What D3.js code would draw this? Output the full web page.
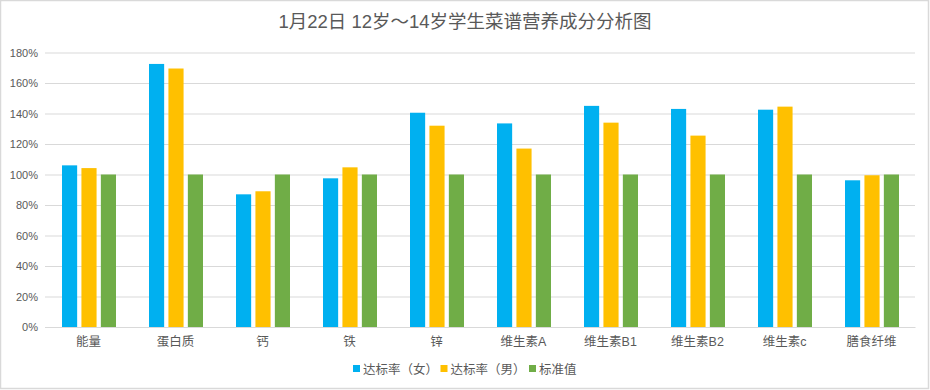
<!DOCTYPE html>
<html>
<head>
<meta charset="utf-8">
<script src="https://cdn.jsdelivr.net/npm/d3@7/dist/d3.min.js"></script>
<style>
html,body{margin:0;padding:0;background:#fff;}
text{font-family:"Liberation Sans","Noto Sans CJK SC",sans-serif;}
</style>
</head>
<body>
<svg id="chart" width="930" height="390"></svg>
<script>
const categories = ["能量","蛋白质","钙","铁","锌","维生素A","维生素B1","维生素B2","维生素c","膳食纤维"];
const seriesNames = ["达标率（女）","达标率（男）","标准值"];
const female = [1.06,1.725,0.87,0.975,1.405,1.335,1.45,1.43,1.425,0.962];
const male   = [1.042,1.695,0.89,1.047,1.32,1.17,1.34,1.255,1.445,0.995];
const standard = [1,1,1,1,1,1,1,1,1,1];
const colors = ["#00B0F0","#FFC000","#70AD47"];
const yTicks = [0,0.2,0.4,0.6,0.8,1.0,1.2,1.4,1.6,1.8];
const title = "1月22日 12岁～14岁学生菜谱营养成分分析图";

(function(){
const series = [female, male, standard];
const svg = d3.select("#chart");
const W = 930, H = 390;

// outer frame
svg.append("rect").attr("x",0.5).attr("y",0.5).attr("width",W-2).attr("height",H-2)
  .attr("fill","#fff").attr("stroke","#d9d9d9").attr("stroke-width",1.5);

const pLeft = 45, pRight = 915, pTop = 52.5, pBottom = 327;
const groupW = 54;
const x = d3.scaleBand().domain(categories).range([pLeft,pRight]).paddingInner(0).paddingOuter(0);
const y = d3.scaleLinear().domain([0,1.8]).range([pBottom,pTop]);
const inner = d3.scaleBand().domain(d3.range(3)).range([0,groupW]).paddingInner(0.22).paddingOuter(0);
const groupOffset = (x.bandwidth()-groupW)/2 + 0.5;

// grid
const yAxis = d3.axisLeft(y).tickValues(yTicks).tickFormat(d3.format(".0%")).tickSize(-(pRight-pLeft)).tickPadding(8);
const gy = svg.append("g").attr("transform",`translate(${pLeft},0)`).call(yAxis);
gy.select(".domain").remove();
gy.selectAll(".tick line").attr("stroke","#d9d9d9").attr("stroke-width",1);
gy.selectAll(".tick text").attr("fill","#595959").attr("font-size","11px").attr("x",-7);

// bars
series.forEach((vals,si)=>{
  svg.append("g").selectAll("rect").data(vals).join("rect")
    .attr("x",(d,i)=>x(categories[i]) + groupOffset + inner(si))
    .attr("y",d=>y(d))
    .attr("width",inner.bandwidth())
    .attr("height",d=>y(0)-y(d))
    .attr("fill",colors[si]);
});

// x axis
const xAxis = d3.axisBottom(x).tickSize(0).tickPadding(10);
const gx = svg.append("g").attr("transform",`translate(0,${pBottom})`).call(xAxis);
gx.select(".domain").attr("stroke","#d9d9d9").attr("stroke-width",1.2);
gx.selectAll(".tick text").attr("fill","#595959").attr("font-size","12.5px").attr("dy","0.71em");

// title
svg.append("text").attr("x",465).attr("y",28).attr("text-anchor","middle")
  .attr("fill","#595959").attr("font-size","18.5px").text(title);

// legend
const legendX = [353, 440.5, 529];
const lg = svg.append("g");
seriesNames.forEach((n,i)=>{
  lg.append("rect").attr("x",legendX[i]).attr("y",365).attr("width",7).attr("height",7).attr("fill",colors[i]);
  lg.append("text").attr("x",legendX[i]+10).attr("y",373.5).attr("fill","#595959").attr("font-size","12.5px").text(n);
});
})();
</script>
</body>
</html>
